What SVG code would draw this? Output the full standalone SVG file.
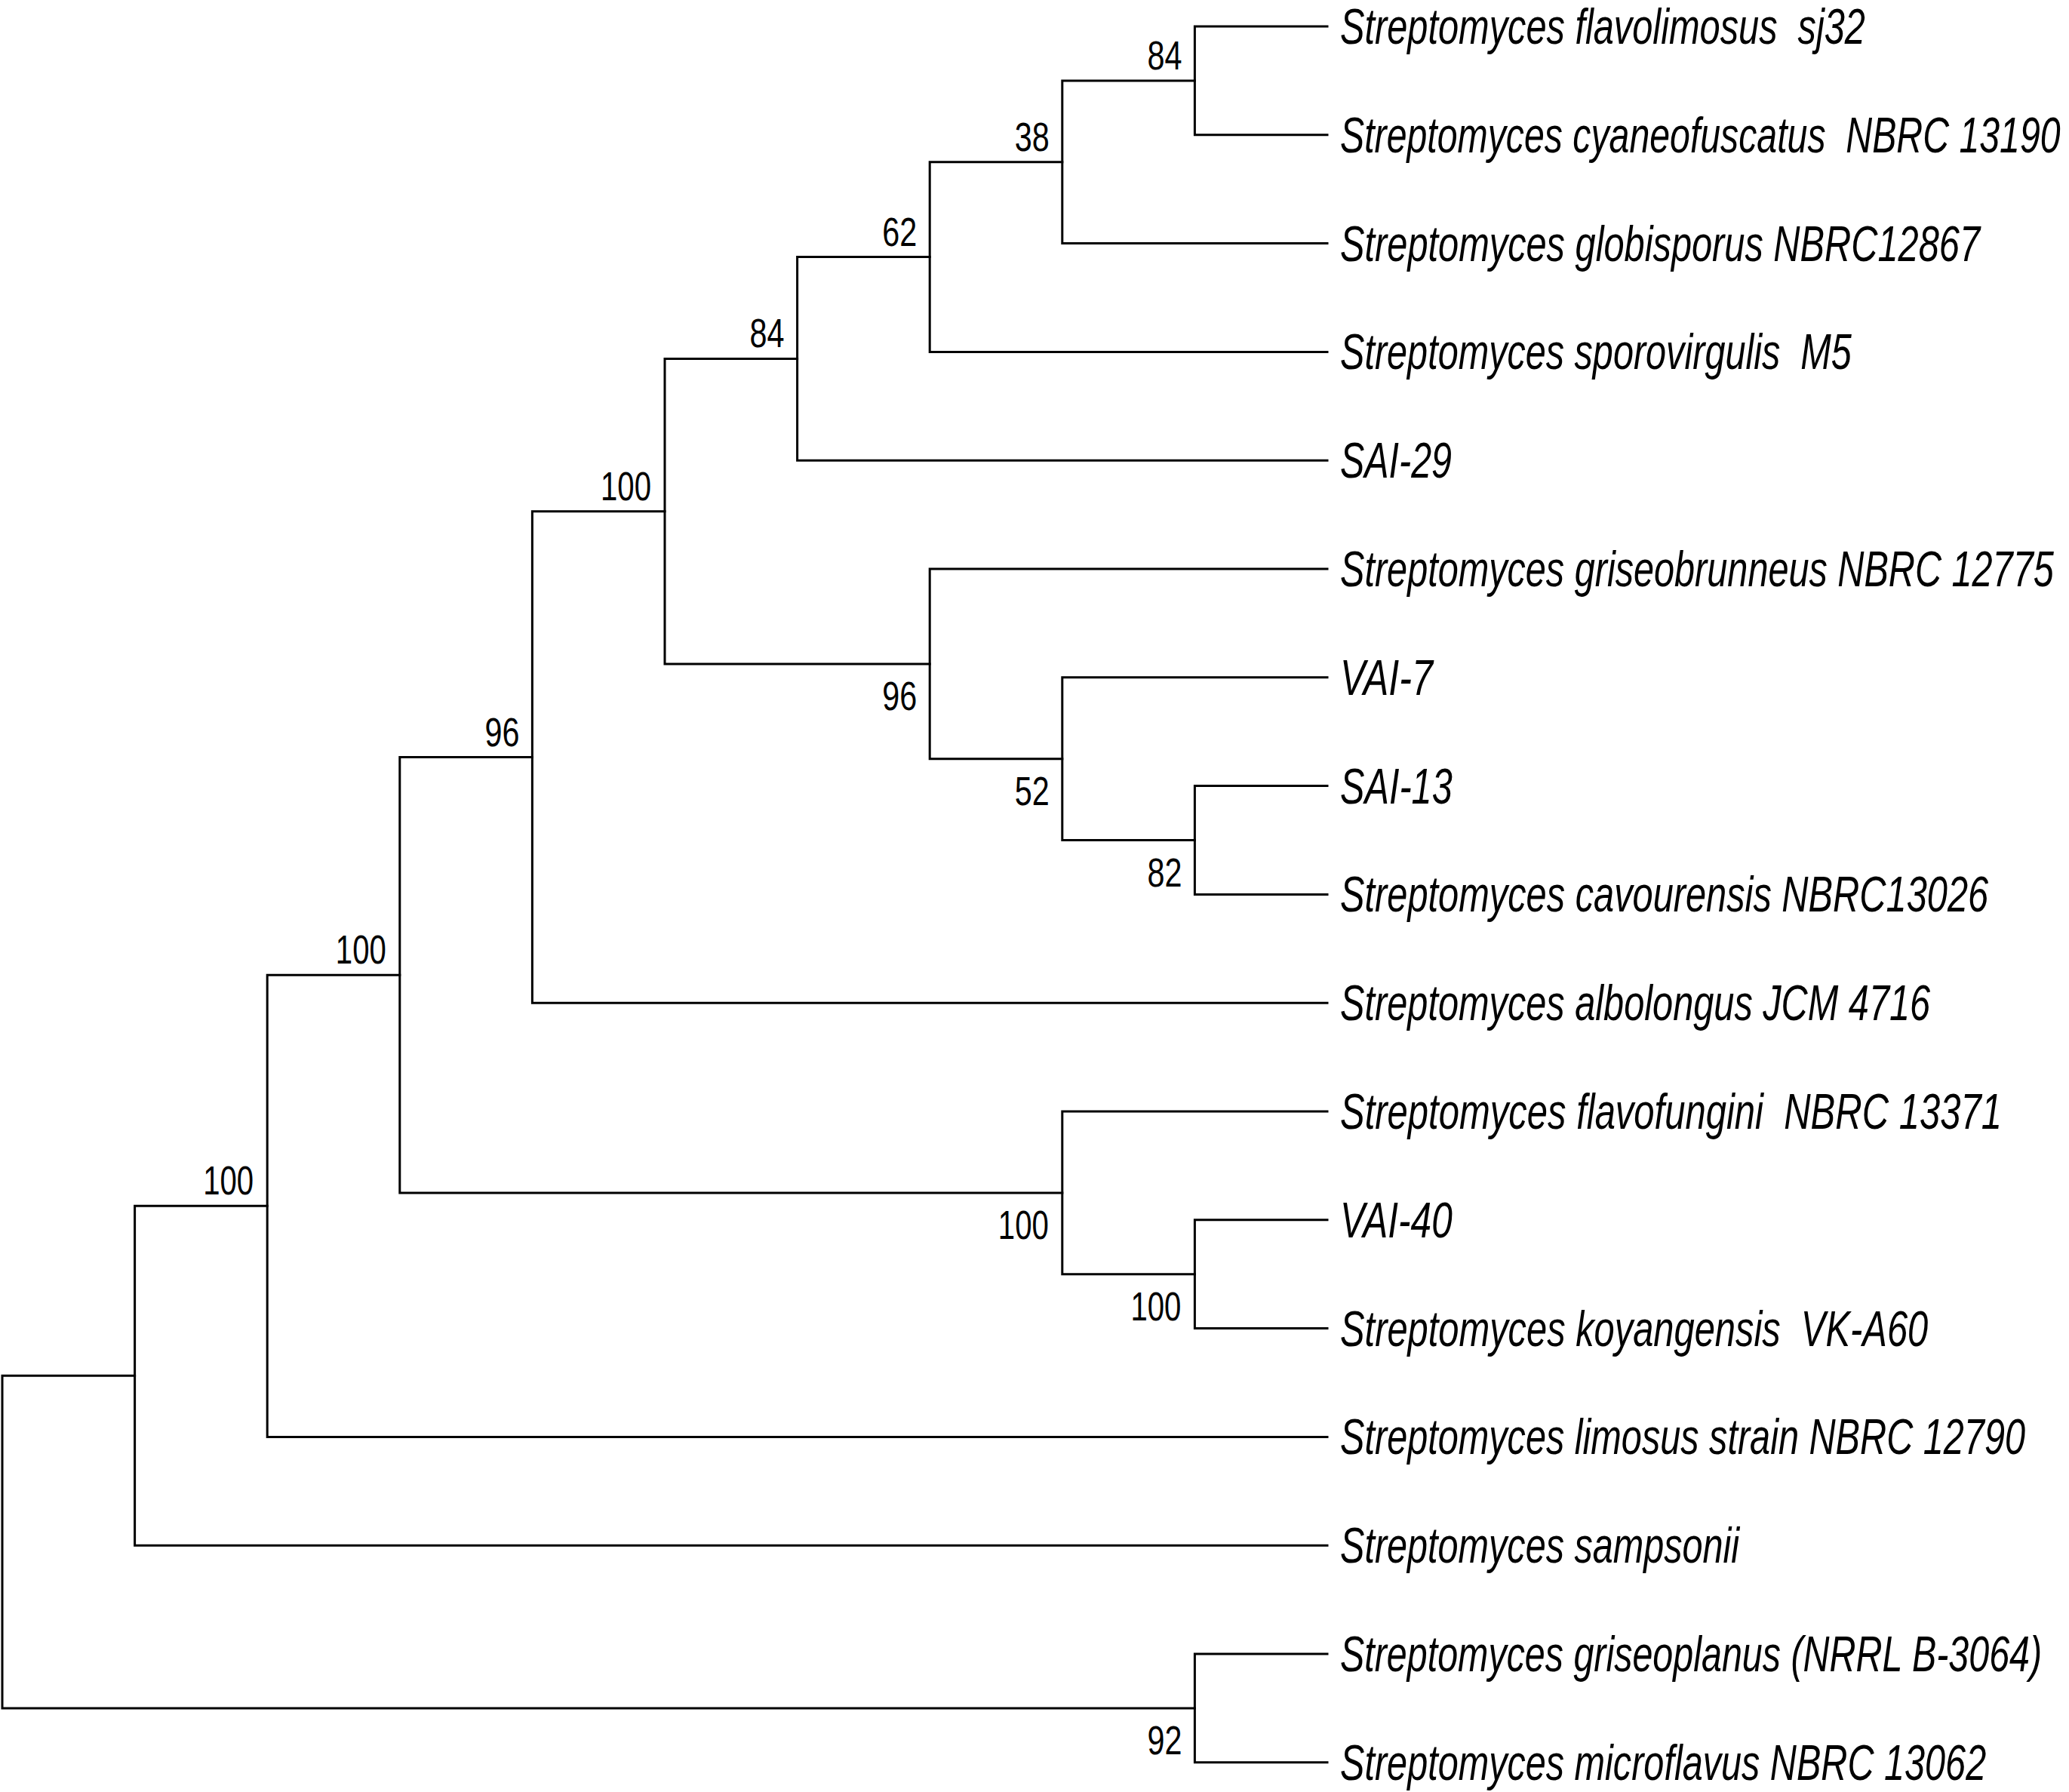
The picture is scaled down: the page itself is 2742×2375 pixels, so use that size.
<svg xmlns="http://www.w3.org/2000/svg" width="2742" height="2375" viewBox="0 0 2742 2375">
<style>
.br{fill:none;stroke:#000;stroke-width:3;stroke-linecap:square;stroke-linejoin:miter}
.leaf{font-family:"Liberation Sans",Arial,sans-serif;font-style:italic;font-size:66px;fill:#000;white-space:pre}
.bs{font-family:"Liberation Sans",Arial,sans-serif;font-size:54px;fill:#000}
</style>
<rect width="2742" height="2375" fill="#fff"/>
<g id="connectors">
<path class="br" d="M1759 35 H1583.4 V178.8 H1759"/>
<path class="br" d="M1583.4 106.9 H1407.8 V322.6 H1759"/>
<path class="br" d="M1407.8 214.75 H1232.2 V466.4 H1759"/>
<path class="br" d="M1232.2 340.6 H1056.6 V610.2 H1759"/>
<path class="br" d="M1759 1041.6 H1583.4 V1185.4 H1759"/>
<path class="br" d="M1759 897.8 H1407.8 V1113.5 H1583.4"/>
<path class="br" d="M1759 754 H1232.2 V1005.7 H1407.8"/>
<path class="br" d="M1056.6 475.4 H881 V879.9 H1232.2"/>
<path class="br" d="M881 677.7 H705.4 V1329.2 H1759"/>
<path class="br" d="M1759 1616.8 H1583.4 V1760.6 H1759"/>
<path class="br" d="M1759 1473 H1407.8 V1688.7 H1583.4"/>
<path class="br" d="M705.4 1003.5 H529.8 V1580.9 H1407.8"/>
<path class="br" d="M529.8 1292.2 H354.2 V1904.4 H1759"/>
<path class="br" d="M354.2 1598.3 H178.6 V2048.2 H1759"/>
<path class="br" d="M1759 2192 H1583.4 V2335.8 H1759"/>
<path class="br" d="M178.6 1823.3 H3 V2263.9 H1583.4"/>
</g>
<g id="leaf1" transform="translate(1776,58) scale(0.74,1)"><text class="leaf" x="0" y="0" textLength="940.5" lengthAdjust="spacingAndGlyphs" xml:space="preserve">Streptomyces flavolimosus  sj32</text></g>
<g id="leaf2" transform="translate(1776,201.8) scale(0.74,1)"><text class="leaf" x="0" y="0" textLength="1290" lengthAdjust="spacingAndGlyphs" xml:space="preserve">Streptomyces cyaneofuscatus  NBRC 13190</text></g>
<g id="leaf3" transform="translate(1776,345.6) scale(0.74,1)"><text class="leaf" x="0" y="0" textLength="1146" lengthAdjust="spacingAndGlyphs">Streptomyces globisporus NBRC12867</text></g>
<g id="leaf4" transform="translate(1776,489.4) scale(0.74,1)"><text class="leaf" x="0" y="0" textLength="916" lengthAdjust="spacingAndGlyphs" xml:space="preserve">Streptomyces sporovirgulis  M5</text></g>
<g id="leaf5" transform="translate(1776,633.2) scale(0.74,1)"><text class="leaf" x="0" y="0" textLength="200" lengthAdjust="spacingAndGlyphs">SAI-29</text></g>
<g id="leaf6" transform="translate(1776,777) scale(0.74,1)"><text class="leaf" x="0" y="0" textLength="1278" lengthAdjust="spacingAndGlyphs">Streptomyces griseobrunneus NBRC 12775</text></g>
<g id="leaf7" transform="translate(1776,920.8) scale(0.74,1)"><text class="leaf" x="0" y="0" textLength="166" lengthAdjust="spacingAndGlyphs">VAI-7</text></g>
<g id="leaf8" transform="translate(1776,1064.6) scale(0.74,1)"><text class="leaf" x="0" y="0" textLength="201" lengthAdjust="spacingAndGlyphs">SAI-13</text></g>
<g id="leaf9" transform="translate(1776,1208.4) scale(0.74,1)"><text class="leaf" x="0" y="0" textLength="1161" lengthAdjust="spacingAndGlyphs">Streptomyces cavourensis NBRC13026</text></g>
<g id="leaf10" transform="translate(1776,1352.2) scale(0.74,1)"><text class="leaf" x="0" y="0" textLength="1057" lengthAdjust="spacingAndGlyphs">Streptomyces albolongus JCM 4716</text></g>
<g id="leaf11" transform="translate(1776,1496) scale(0.74,1)"><text class="leaf" x="0" y="0" textLength="1185" lengthAdjust="spacingAndGlyphs" xml:space="preserve">Streptomyces flavofungini  NBRC 13371</text></g>
<g id="leaf12" transform="translate(1776,1639.8) scale(0.74,1)"><text class="leaf" x="0" y="0" textLength="201" lengthAdjust="spacingAndGlyphs">VAI-40</text></g>
<g id="leaf13" transform="translate(1776,1783.6) scale(0.74,1)"><text class="leaf" x="0" y="0" textLength="1053" lengthAdjust="spacingAndGlyphs" xml:space="preserve">Streptomyces koyangensis  VK-A60</text></g>
<g id="leaf14" transform="translate(1776,1927.4) scale(0.74,1)"><text class="leaf" x="0" y="0" textLength="1227" lengthAdjust="spacingAndGlyphs">Streptomyces limosus strain NBRC 12790</text></g>
<g id="leaf15" transform="translate(1776,2071.2) scale(0.74,1)"><text class="leaf" x="0" y="0" textLength="715" lengthAdjust="spacingAndGlyphs">Streptomyces sampsonii</text></g>
<g id="leaf16" transform="translate(1776,2215) scale(0.74,1)"><text class="leaf" x="0" y="0" textLength="1257" lengthAdjust="spacingAndGlyphs">Streptomyces griseoplanus (NRRL B-3064)</text></g>
<g id="leaf17" transform="translate(1776,2358.8) scale(0.74,1)"><text class="leaf" x="0" y="0" textLength="1157" lengthAdjust="spacingAndGlyphs">Streptomyces microflavus NBRC 13062</text></g>
<g id="nodeA"><text class="bs" x="1520.4" y="92" textLength="46" lengthAdjust="spacingAndGlyphs">84</text></g>
<g id="nodeB"><text class="bs" x="1344.8" y="199.75" textLength="46" lengthAdjust="spacingAndGlyphs">38</text></g>
<g id="nodeC"><text class="bs" x="1169.2" y="325.6" textLength="46" lengthAdjust="spacingAndGlyphs">62</text></g>
<g id="nodeD"><text class="bs" x="993.6" y="460.4" textLength="46" lengthAdjust="spacingAndGlyphs">84</text></g>
<g id="nodeH"><text class="bs" x="796" y="662.7" textLength="67" lengthAdjust="spacingAndGlyphs">100</text></g>
<g id="nodeI"><text class="bs" x="642.4" y="988.5" textLength="46" lengthAdjust="spacingAndGlyphs">96</text></g>
<g id="nodeL"><text class="bs" x="444.8" y="1277.2" textLength="67" lengthAdjust="spacingAndGlyphs">100</text></g>
<g id="nodeM"><text class="bs" x="269.2" y="1583.3" textLength="67" lengthAdjust="spacingAndGlyphs">100</text></g>
<g id="nodeG"><text class="bs" x="1169.2" y="940.9" textLength="46" lengthAdjust="spacingAndGlyphs">96</text></g>
<g id="nodeF"><text class="bs" x="1344.8" y="1066.7" textLength="46" lengthAdjust="spacingAndGlyphs">52</text></g>
<g id="nodeE"><text class="bs" x="1520.4" y="1174.5" textLength="46" lengthAdjust="spacingAndGlyphs">82</text></g>
<g id="nodeK"><text class="bs" x="1322.8" y="1641.9" textLength="67" lengthAdjust="spacingAndGlyphs">100</text></g>
<g id="nodeJ"><text class="bs" x="1498.4" y="1749.7" textLength="67" lengthAdjust="spacingAndGlyphs">100</text></g>
<g id="nodeO"><text class="bs" x="1520.4" y="2324.9" textLength="46" lengthAdjust="spacingAndGlyphs">92</text></g>
</svg>
